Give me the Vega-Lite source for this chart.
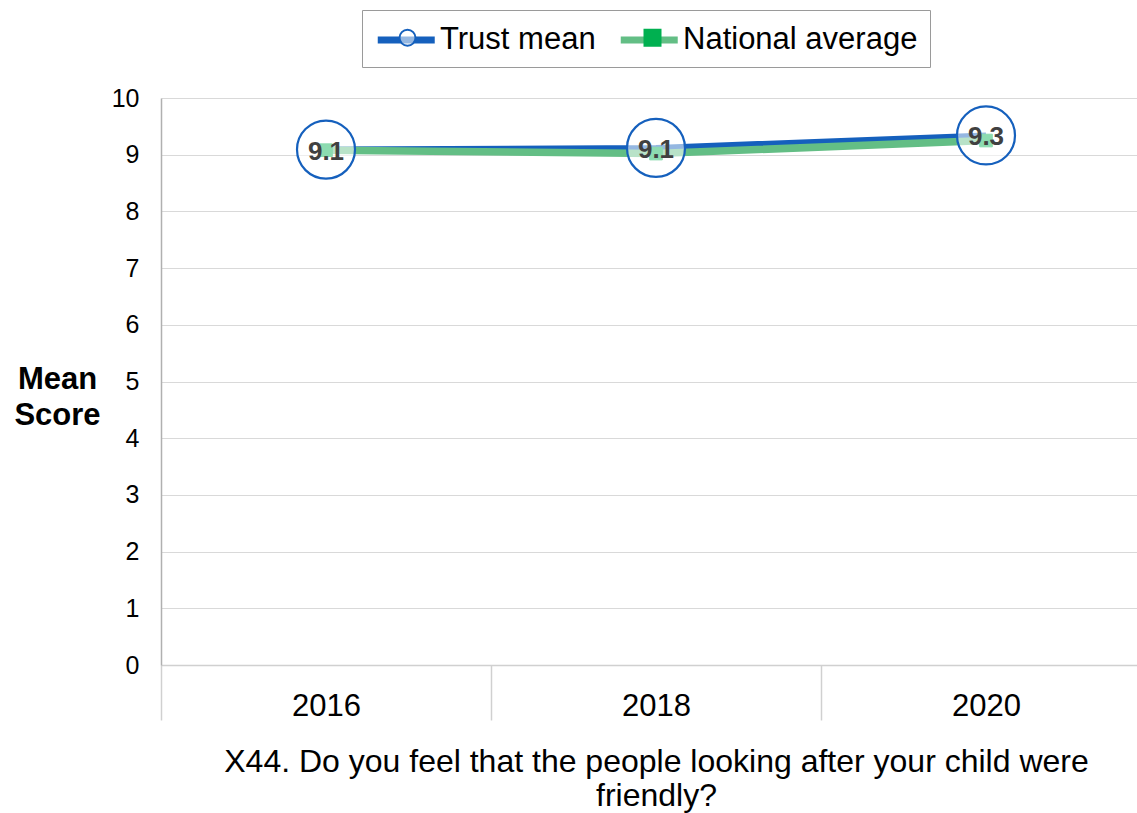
{
  "$schema": "https://vega.github.io/schema/vega-lite/v6.json",
  "width": 976,
  "height": 567,
  "autosize": {"type": "none"},
  "padding": {"left": 161, "top": 98, "right": 0, "bottom": 148},
  "background": "white",
  "config": {
    "view": {"stroke": null},
    "font": "Liberation Sans"
  },
  "data": {
    "values": [
      {"year": "2016", "series": "Trust mean", "score": 9.09},
      {"year": "2018", "series": "Trust mean", "score": 9.12},
      {"year": "2020", "series": "Trust mean", "score": 9.34},
      {"year": "2016", "series": "National average", "score": 9.08},
      {"year": "2018", "series": "National average", "score": 9.02},
      {"year": "2020", "series": "National average", "score": 9.25}
    ]
  },
  "encoding": {
    "x": {
      "field": "year",
      "type": "nominal",
      "scale": {"range": [0, 990], "paddingInner": 0, "paddingOuter": 0},
      "axis": {
        "labelAngle": 0,
        "labelFontSize": 31,
        "labelColor": "#000000",
        "labelBaseline": "alphabetic",
        "labelPadding": -5,
        "tickBand": "extent",
        "tickSize": 55,
        "tickColor": "#d0d0d0",
        "tickWidth": 1.5,
        "domainColor": "#d0d0d0",
        "domainWidth": 1.5,
        "grid": false,
        "title": ["X44. Do you feel that the people looking after your child were", "friendly?"],
        "titleFontSize": 32,
        "titleFontWeight": "normal",
        "titleColor": "#000000",
        "titleBaseline": "alphabetic",
        "titleLineHeight": 34,
        "titleY": 106
      }
    },
    "y": {
      "field": "score",
      "type": "quantitative",
      "scale": {"domain": [0, 10], "nice": false},
      "axis": {
        "values": [0, 1, 2, 3, 4, 5, 6, 7, 8, 9, 10],
        "labelFontSize": 25,
        "labelColor": "#000000",
        "labelPadding": 22,
        "ticks": false,
        "tickSize": 0,
        "domainColor": "#b0b0b0",
        "domainWidth": 1.5,
        "gridColor": "#d9d9d9",
        "gridWidth": 1.2,
        "title": ["Mean", "Score"],
        "titleAngle": 0,
        "titleFontSize": 31,
        "titleFontWeight": "bold",
        "titleColor": "#000000",
        "titleAlign": "center",
        "titleBaseline": "middle",
        "titleLineHeight": 36,
        "titleX": -104,
        "titleY": 281
      }
    }
  },
  "layer": [
    {
      "transform": [{"filter": "datum.series === 'Trust mean'"}],
      "mark": {"type": "line", "strokeWidth": 6},
      "encoding": {
        "color": {
          "field": "series",
          "type": "nominal",
          "scale": {"domain": ["Trust mean", "National average"], "range": ["#1560BD", "#63BE85"]},
          "legend": {
            "orient": "none",
            "legendX": 201,
            "legendY": -88,
            "direction": "horizontal",
            "title": null,
            "symbolType": "M-1,0H3",
            "symbolSize": 812,
            "symbolStrokeWidth": 7,
            "labelFontSize": 31,
            "labelColor": "#000000",
            "labelLimit": 400,
            "labelOffset": 30,
            "columnPadding": 10,
            "padding": 12,
            "strokeColor": "#9a9a9a",
            "fillColor": "#ffffff"
          }
        }
      }
    },
    {
      "transform": [{"filter": "datum.series === 'National average'"}],
      "mark": {"type": "line", "strokeWidth": 7.5},
      "encoding": {
        "color": {"field": "series", "type": "nominal"}
      }
    },
    {
      "transform": [{"filter": "datum.series === 'National average'"}],
      "mark": {"type": "point", "size": 160, "strokeWidth": 1, "filled": true, "opacity": 1},
      "encoding": {
        "fill": {"field": "series", "type": "nominal", "sort": "descending", "scale": {"range": ["rgba(255,255,255,0.55)", "#00B050"]}},
        "stroke": {"field": "series", "type": "nominal", "sort": "descending", "scale": {"range": ["#1560BD", "#00B050"]}},
        "shape": {
          "field": "series",
          "type": "nominal",
          "sort": "descending",
          "scale": {"range": ["circle", "square"]},
          "legend": {
            "orient": "none",
            "legendX": 201,
            "legendY": -88,
            "direction": "horizontal",
            "title": null,
            "symbolSize": 256,
            "symbolStrokeWidth": 2,
            "symbolOffset": 18,
            "symbolOpacity": 1,
            "labelFontSize": 31,
            "labelLimit": 400,
            "labelOpacity": 0,
            "labelOffset": 29.5,
            "columnPadding": 10,
            "padding": 12,
            "encode": {
              "symbols": {
                "fill": {"value": {"expr": "datum.value === 'Trust mean' ? '#ffffff' : '#00B050'"}},
                "fillOpacity": {"value": 1},
                "opacity": {"value": 1},
                "size": {"value": {"expr": "datum.value === 'Trust mean' ? 289 : 169"}}
              }
            }
          }
        }
      }
    },
    {
      "transform": [{"filter": "datum.series === 'Trust mean'"}],
      "mark": {"type": "point", "size": 3364, "strokeWidth": 2.2, "filled": true, "opacity": 1},
      "encoding": {
        "fill": {"field": "series", "type": "nominal", "sort": "descending"},
        "stroke": {"field": "series", "type": "nominal", "sort": "descending"},
        "shape": {"field": "series", "type": "nominal", "sort": "descending"}
      }
    },
    {
      "transform": [{"filter": "datum.series === 'Trust mean'"}],
      "mark": {"type": "text", "fontSize": 26, "fontWeight": "bold", "color": "#404040", "baseline": "middle", "align": "center", "dy": 2},
      "encoding": {
        "text": {"field": "score", "type": "quantitative", "format": ".1f"}
      }
    }
  ]
}
